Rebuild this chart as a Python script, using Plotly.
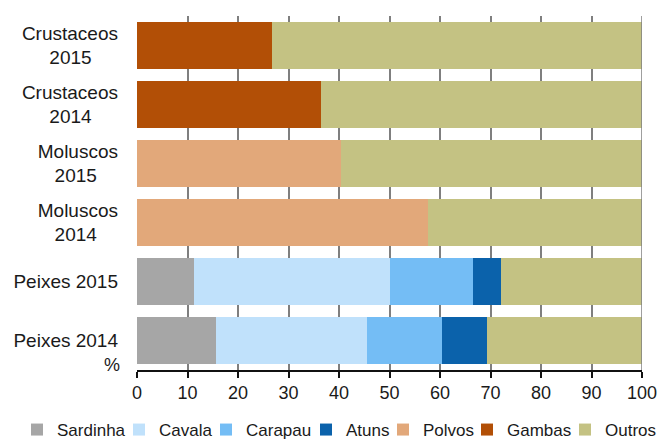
import plotly.graph_objects as go

# Share of landings by species group (%)
categories = ["Peixes 2014", "Peixes 2015", "Moluscos 2014", "Moluscos 2015",
              "Crustaceos 2014", "Crustaceos 2015"]
category_lines = [["Peixes 2014"], ["Peixes 2015"], ["Moluscos", "2014"], ["Moluscos", "2015"],
                  ["Crustaceos", "2014"], ["Crustaceos", "2015"]]

sardinha = [15.6, 11.2, 0, 0, 0, 0]
cavala = [29.9, 38.8, 0, 0, 0, 0]
carapau = [14.8, 16.5, 0, 0, 0, 0]
atuns = [9.1, 5.5, 0, 0, 0, 0]
polvos = [0, 0, 57.7, 40.3, 0, 0]
gambas = [0, 0, 0, 0, 36.4, 26.7]
outros = [30.6, 28.0, 42.3, 59.7, 63.6, 73.3]

series_names = ["Sardinha", "Cavala", "Carapau", "Atuns", "Polvos", "Gambas", "Outros"]
series_values = [sardinha, cavala, carapau, atuns, polvos, gambas, outros]
series_colors = ["#a6a6a6", "#c0e1fb", "#74bdf5", "#0b62ab", "#e2a87a", "#b24f06", "#c4c283"]

x_tick_step = 10

# left edge (px) of each legend entry along the bottom row
legend_left_px = [17, 119, 206, 306, 383, 467, 565]

font_family = "Liberation Sans, Arial, sans-serif"
W, H = 662, 440


def centred_label(lines):
    """Right-aligned tick text: pad shorter lines so they sit centred."""
    if len(lines) == 1:
        return lines[0]
    # approximate widths in em for Arial-like glyphs
    widths = {"C": .722, "r": .333, "u": .556, "s": .5, "t": .278, "a": .556, "c": .5,
              "e": .556, "o": .556, "M": .833, "l": .222}

    def em(txt):
        return sum(widths.get(ch, .556) for ch in txt)

    longest = max(em(t) for t in lines)
    out = []
    for t in lines:
        pad = round((longest - em(t)) / 2 / 0.278)
        out.append(t + "&nbsp;" * pad)
    return "<br>".join(out)


tick_text = [centred_label(l) for l in category_lines]

fig = go.Figure()
for i, (name, values, color) in enumerate(zip(series_names, series_values, series_colors)):
    fig.add_trace(go.Bar(
        name=name, y=categories, x=values, orientation="h",
        marker=dict(color=color, line=dict(width=0)),
        hoverinfo="name+x",
        legend="legend" if i == 0 else f"legend{i + 1}",
    ))

legends = {}
for i, left in enumerate(legend_left_px):
    key = "legend" if i == 0 else f"legend{i + 1}"
    legends[key] = dict(
        orientation="h", xref="container", x=left / W, xanchor="left",
        yref="container", y=10 / H, yanchor="middle",
        font=dict(size=17, color="#1a1a1a"), bgcolor="rgba(0,0,0,0)",
    )

fig.update_layout(
    width=W, height=H,
    barmode="stack", bargap=0.2,
    plot_bgcolor="white", paper_bgcolor="white",
    margin=dict(l=137, r=20, t=16, b=70, autoexpand=False),
    font=dict(family=font_family, size=18, color="#1a1a1a"),
    showlegend=True,
    **legends,
)

fig.update_xaxes(
    range=[0, 100], tickmode="linear", tick0=0, dtick=x_tick_step,
    showgrid=True, gridcolor="#7f7f7f", gridwidth=1.5,
    showline=True, linecolor="#111111", linewidth=1.5,
    ticks="outside", ticklen=6, tickwidth=1.5, tickcolor="#111111",
    tickfont=dict(size=18), zeroline=False,
)
fig.update_yaxes(
    showgrid=False, zeroline=False, ticks="",
    tickmode="array", tickvals=categories, ticktext=tick_text,
    tickfont=dict(size=19), ticklabelstandoff=18,
)

# right-hand border of the plot area
fig.add_shape(type="line", xref="x", yref="paper", x0=100, x1=100, y0=0, y1=1,
              line=dict(color="#7f7f7f", width=1.5), layer="above")

# unit label beside the value axis
fig.add_annotation(text="%", xref="paper", yref="paper", x=0, y=0,
                   xanchor="right", yanchor="middle", xshift=-15, yshift=5,
                   showarrow=False, font=dict(size=18, color="#1a1a1a"))

fig.write_html("out.html")
